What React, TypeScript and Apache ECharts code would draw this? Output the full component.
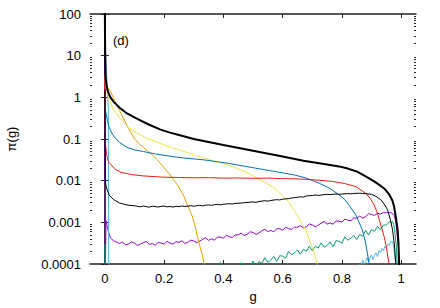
import React, { useEffect, useRef } from "react";
import * as echarts from "echarts";

// ---- data: [g, pi(g)] ----
const thickBlack: number[][] = [
  [0, 300], [0.0005, 40], [0.0015, 8], [0.0025, 3.2], [0.005, 2.2], [0.008, 1.6], [0.013, 1.25],
  [0.019, 1.0], [0.03, 0.78], [0.05, 0.56], [0.075, 0.41], [0.1, 0.33], [0.125, 0.27], [0.15, 0.22],
  [0.188, 0.168], [0.22, 0.142], [0.25, 0.125], [0.3, 0.1], [0.35, 0.085], [0.4, 0.072], [0.5, 0.052],
  [0.6, 0.038], [0.67, 0.030], [0.75, 0.0245], [0.79, 0.022], [0.82, 0.0195], [0.85, 0.0166],
  [0.88, 0.0126], [0.91, 0.0095], [0.926, 0.0079], [0.945, 0.0063], [0.96, 0.0046], [0.97, 0.0034],
  [0.976, 0.0024], [0.983, 0.0012], [0.988, 0.00066], [0.991, 0.0003], [0.993, 0.0001], [0.994, 0.00005],
];

const yellowLine: number[][] = [
  [0, 2.5], [0.002, 2.0], [0.005, 1.5], [0.01, 1.1], [0.015, 0.85], [0.03, 0.5], [0.05, 0.32],
  [0.075, 0.2], [0.1, 0.15], [0.14, 0.105], [0.2, 0.072], [0.25, 0.055], [0.3, 0.042], [0.334, 0.035],
  [0.413, 0.024], [0.46, 0.018], [0.503, 0.0129], [0.55, 0.0083], [0.577, 0.0063], [0.6, 0.0043],
  [0.62, 0.0031], [0.644, 0.0017], [0.66, 0.0011], [0.678, 0.00066], [0.69, 0.00038], [0.705, 0.0002],
  [0.717, 0.0001], [0.72, 0.00005],
];

const orangeLine: number[][] = [
  [0, 3.5], [0.004, 2.2], [0.01, 1.7], [0.019, 1.4], [0.03, 0.95], [0.04, 0.65], [0.05, 0.48],
  [0.064, 0.3], [0.08, 0.18], [0.098, 0.105], [0.115, 0.078], [0.13, 0.063], [0.15, 0.048],
  [0.166, 0.038], [0.19, 0.025], [0.22, 0.0138], [0.245, 0.0079], [0.267, 0.0042], [0.28, 0.0025],
  [0.295, 0.0014], [0.305, 0.0008], [0.312, 0.00046], [0.32, 0.00028], [0.329, 0.000166],
  [0.335, 0.0001], [0.338, 0.00005],
];

const blueLine: number[][] = [
  [0, 0.7], [0.003, 0.45], [0.007, 0.32], [0.0135, 0.2], [0.025, 0.132], [0.036, 0.105], [0.05, 0.082],
  [0.075, 0.063], [0.1, 0.055], [0.13, 0.05], [0.171, 0.0437], [0.25, 0.036], [0.334, 0.0316],
  [0.413, 0.0263], [0.526, 0.019], [0.638, 0.0138], [0.68, 0.0115], [0.723, 0.0087], [0.76, 0.0065],
  [0.79, 0.0046], [0.81, 0.0035], [0.824, 0.0026], [0.847, 0.0015], [0.869, 0.00066], [0.88, 0.00032],
  [0.892, 0.0001], [0.895, 0.00005],
];

const redLine: number[][] = [
  [0, 3], [0.002, 0.075], [0.006, 0.042], [0.012, 0.029], [0.019, 0.025], [0.036, 0.0185],
  [0.053, 0.016], [0.09, 0.014], [0.13, 0.013], [0.2, 0.0121], [0.25, 0.0119], [0.3, 0.0117],
  [0.35, 0.0118], [0.4, 0.0115], [0.45, 0.0116], [0.5, 0.0114], [0.55, 0.0115], [0.6, 0.0112],
  [0.655, 0.011], [0.72, 0.0103], [0.768, 0.0096], [0.81, 0.0085], [0.847, 0.0072], [0.88, 0.005],
  [0.895, 0.0038], [0.909, 0.0026], [0.918, 0.0018], [0.926, 0.00115], [0.935, 0.0007],
  [0.943, 0.00044], [0.95, 0.00025], [0.959, 0.0001], [0.962, 0.00005],
];

const thinBlack: number[][] = [
  [0, 1.5], [0.002, 0.01], [0.004, 0.0075], [0.008, 0.006], [0.015, 0.0045], [0.03, 0.0035],
  [0.05, 0.0029], [0.075, 0.0026], [0.1, 0.0025], [0.11, 0.00242], [0.12, 0.00236], [0.13, 0.00247],
  [0.14, 0.00238], [0.15, 0.00231], [0.16, 0.00244], [0.17, 0.00239], [0.18, 0.00233], [0.19, 0.00241],
  [0.2, 0.00246], [0.21, 0.00235], [0.22, 0.0024], [0.23, 0.00232], [0.24, 0.00243], [0.25, 0.00238],
  [0.26, 0.00247], [0.27, 0.0024], [0.28, 0.00244], [0.29, 0.00251], [0.3, 0.00243], [0.31, 0.0025],
  [0.32, 0.00256], [0.33, 0.00248], [0.34, 0.00258], [0.35, 0.00262], [0.36, 0.00255], [0.37, 0.00266],
  [0.38, 0.0027], [0.39, 0.00263], [0.4, 0.00272], [0.42, 0.0028], [0.43, 0.00274], [0.44, 0.00285],
  [0.46, 0.0029], [0.47, 0.00296], [0.48, 0.0030], [0.5, 0.00308], [0.51, 0.00302], [0.52, 0.00316],
  [0.54, 0.0033], [0.55, 0.00322], [0.56, 0.00335], [0.58, 0.0035], [0.59, 0.00344], [0.6, 0.0036],
  [0.62, 0.0037], [0.63, 0.00385], [0.64, 0.0039], [0.66, 0.0041], [0.67, 0.00402], [0.68, 0.0043],
  [0.7, 0.0044], [0.71, 0.00452], [0.72, 0.00443], [0.74, 0.0046], [0.75, 0.00472], [0.76, 0.00462],
  [0.78, 0.0048], [0.79, 0.00468], [0.8, 0.00478], [0.82, 0.0049], [0.83, 0.00482], [0.84, 0.00493],
  [0.86, 0.005], [0.87, 0.00492], [0.88, 0.00488], [0.9, 0.0047], [0.915, 0.0042], [0.931, 0.0035],
  [0.945, 0.0026], [0.954, 0.002], [0.963, 0.0012], [0.971, 0.00066], [0.977, 0.0003],
  [0.982, 0.0001], [0.985, 0.00005],
];

const purpleLine: number[][] = [
  [0, 50], [0.0015, 0.00005], [0.004, 0.0011], [0.008, 0.0008], [0.012, 0.0006], [0.019, 0.00042],
  [0.03, 0.00036], [0.042, 0.00033], [0.05, 0.00031], [0.06, 0.000335], [0.07, 0.000288], [0.08, 0.0003],
  [0.09, 0.00034], [0.1, 0.000316], [0.11, 0.000279], [0.12, 0.000298], [0.13, 0.000326], [0.14, 0.000347],
  [0.15, 0.000295], [0.16, 0.00031], [0.17, 0.000282], [0.18, 0.000329], [0.19, 0.000319], [0.2, 0.0003],
  [0.21, 0.000349], [0.22, 0.000319], [0.23, 0.000299], [0.24, 0.000343], [0.25, 0.00033], [0.26, 0.000362],
  [0.27, 0.000312], [0.28, 0.00033], [0.29, 0.000374], [0.3, 0.000357], [0.31, 0.000324], [0.32, 0.000355],
  [0.33, 0.000389], [0.34, 0.000426], [0.35, 0.00037], [0.36, 0.0004], [0.37, 0.000373], [0.38, 0.000445],
  [0.39, 0.000443], [0.4, 0.000414], [0.41, 0.00049], [0.42, 0.000451], [0.43, 0.000432], [0.44, 0.0005],
  [0.45, 0.0005], [0.46, 0.000551], [0.47, 0.000484], [0.48, 0.000514], [0.49, 0.000594], [0.5, 0.000571],
  [0.51, 0.000513], [0.52, 0.000557], [0.53, 0.00063], [0.54, 0.000683], [0.55, 0.000599], [0.56, 0.00064],
  [0.57, 0.000592], [0.58, 0.0007], [0.59, 0.0007], [0.6, 0.000649], [0.61, 0.000763], [0.62, 0.000706],
  [0.63, 0.000672], [0.64, 0.00077], [0.65, 0.00076], [0.66, 0.000832], [0.67, 0.000735], [0.68, 0.000786],
  [0.69, 0.000913], [0.7, 0.000867], [0.71, 0.000783], [0.72, 0.000854], [0.73, 0.000956], [0.74, 0.00104],
  [0.75, 0.000903], [0.76, 0.00097], [0.77, 0.000901], [0.78, 0.00107], [0.79, 0.00107], [0.8, 0.00101],
  [0.81, 0.0012], [0.82, 0.00112], [0.83, 0.00109], [0.84, 0.00127], [0.85, 0.00126], [0.86, 0.00141],
  [0.87, 0.00126], [0.88, 0.00137], [0.89, 0.00161], [0.9, 0.00154], [0.91, 0.00147], [0.92, 0.00165],
  [0.93, 0.00158], [0.94, 0.00172], [0.95, 0.0017], [0.96, 0.00172], [0.97, 0.00166], [0.976, 0.00145],
  [0.981, 0.0011], [0.984, 0.00076], [0.987, 0.00045], [0.99, 0.0003], [0.993, 0.0001], [0.995, 0.00005],
];

const greenLine: number[][] = [
  [0, 0.0003], [0.001, 0.00005], [0.38, 0.00005], [0.39, 0.00011], [0.4, 0.00005], [0.45, 0.00005],
  [0.46, 0.000108], [0.47, 0.00005], [0.49, 0.00008], [0.5, 0.000118], [0.51, 0.000088], [0.52, 0.000115],
  [0.53, 0.000104], [0.54, 0.000142], [0.55, 0.00011], [0.56, 0.000124], [0.57, 0.000152], [0.58, 0.000115],
  [0.59, 0.000158], [0.6, 0.000155], [0.61, 0.000138], [0.62, 0.0002], [0.63, 0.000166], [0.64, 0.000185],
  [0.65, 0.000218], [0.66, 0.000172], [0.67, 0.000226], [0.68, 0.000202], [0.69, 0.000268], [0.7, 0.000208],
  [0.71, 0.000265], [0.72, 0.000242], [0.73, 0.000322], [0.74, 0.000255], [0.75, 0.00028], [0.76, 0.00034],
  [0.77, 0.000262], [0.78, 0.000362], [0.79, 0.000352], [0.8, 0.000315], [0.81, 0.00045], [0.82, 0.000372],
  [0.83, 0.000413], [0.84, 0.000485], [0.85, 0.000382], [0.86, 0.000515], [0.87, 0.000465], [0.88, 0.00064],
  [0.89, 0.000495], [0.9, 0.000665], [0.91, 0.000605], [0.92, 0.0008], [0.93, 0.000665], [0.94, 0.00086],
  [0.95, 0.00086], [0.96, 0.00103], [0.965, 0.00098], [0.971, 0.00105], [0.975, 0.00088], [0.978, 0.00066],
  [0.981, 0.0004], [0.984, 0.00026], [0.986, 0.0001], [0.988, 0.00005],
];

const skyBlueLine: number[][] = [
  [0, 30], [0.012, 0.5], [0.013, 0.00005], [0.855, 0.00005], [0.858, 0.0001], [0.864, 0.000088],
  [0.87, 0.000125], [0.875, 0.000098], [0.88, 0.000115], [0.885, 0.000142], [0.89, 0.000112],
  [0.895, 0.000138], [0.9, 0.000165], [0.905, 0.000128], [0.91, 0.000158], [0.915, 0.000185],
  [0.92, 0.00015], [0.925, 0.00021], [0.93, 0.00019], [0.935, 0.000235], [0.94, 0.00021],
  [0.945, 0.000265], [0.95, 0.00024], [0.955, 0.0003], [0.96, 0.000285], [0.965, 0.00034],
  [0.971, 0.00035], [0.975, 0.00024], [0.978, 0.00015], [0.982, 0.0001], [0.984, 0.00005],
];

const xTickValues = [0, 0.2, 0.4, 0.6, 0.8, 1];
const xTickLabels = ["0", "0.2", "0.4", "0.6", "0.8", "1"];
const yTickValues = [0.0001, 0.001, 0.01, 0.1, 1, 10, 100];
const yTickLabels = ["0.0001", "0.001", "0.01", "0.1", "1", "10", "100"];
const minorMultipliers = [2, 3, 4, 5, 6, 7, 8, 9];

const FONT = "'Liberation Sans', Arial, sans-serif";

export default function App() {
  const ref = useRef<HTMLDivElement>(null);
  useEffect(() => {
    if (!ref.current) return;
    const chart = echarts.init(ref.current, null, { renderer: "svg" });
    const minorValues: number[] = [];
    yTickValues.slice(0, -1).forEach((d) => minorMultipliers.forEach((m) => minorValues.push(d * m)));
    const frameColor = "#222";
    const xLabel = (v: number) => {
      const i = xTickValues.findIndex((t) => Math.abs(t - v) < 1e-6);
      return i >= 0 ? xTickLabels[i] : "";
    };
    const yLabel = (v: number) => {
      const i = yTickValues.findIndex((t) => Math.abs(Math.log10(t) - Math.log10(v)) < 1e-6);
      return i >= 0 ? yTickLabels[i] : "";
    };
    const baseX = {
      type: "value",
      min: -0.05,
      max: 1.05,
      splitLine: { show: false },
      axisLine: { show: true, onZero: false, lineStyle: { color: frameColor, width: 1.5 } },
      axisTick: { show: true, inside: true, length: 4, customValues: xTickValues, lineStyle: { color: frameColor, width: 1 } },
    };
    const baseY = {
      type: "log",
      logBase: 10,
      min: 0.0001,
      max: 100,
      splitLine: { show: false },
    };
    const mk = (data: number[][], color: string, width = 1, z = 2) => ({
      type: "line",
      data,
      showSymbol: false,
      symbol: "none",
      clip: true,
      z,
      lineStyle: { color, width },
      itemStyle: { color },
    });
    chart.setOption({
      animation: false,
      grid: { left: 90, top: 14, width: 326, height: 250, containLabel: false, outerBoundsMode: "none" },
      xAxis: [
        {
          ...baseX,
          position: "bottom",
          name: "g",
          nameLocation: "middle",
          nameGap: 24,
          nameTextStyle: { fontFamily: FONT, fontSize: 13, color: "#000" },
          axisLabel: {
            show: true,
            customValues: xTickValues,
            formatter: xLabel,
            margin: 8,
            fontFamily: FONT,
            fontSize: 13,
            color: "#000",
          },
        },
        { ...baseX, position: "top", axisLabel: { show: false } },
      ],
      yAxis: [
        {
          ...baseY,
          position: "left",
          name: "π(g)",
          nameLocation: "middle",
          nameGap: 72,
          nameRotate: 90,
          nameTextStyle: { fontFamily: FONT, fontSize: 13, color: "#000" },
          axisLine: { show: true, lineStyle: { color: frameColor, width: 1.5 } },
          axisTick: { show: true, inside: true, length: 4, customValues: yTickValues, lineStyle: { color: frameColor } },
          axisLabel: {
            show: true,
            customValues: yTickValues,
            formatter: yLabel,
            margin: 9,
            fontFamily: FONT,
            fontSize: 13,
            color: "#000",
          },
        },
        {
          ...baseY,
          position: "right",
          axisLine: { show: true, lineStyle: { color: frameColor, width: 1.5 } },
          axisTick: { show: true, inside: true, length: 4, customValues: yTickValues, lineStyle: { color: frameColor } },
          axisLabel: { show: false },
        },
        {
          ...baseY,
          position: "left",
          axisLine: { show: false },
          axisTick: { show: true, inside: true, length: 2, customValues: minorValues, lineStyle: { color: frameColor } },
          axisLabel: { show: false },
        },
        {
          ...baseY,
          position: "right",
          axisLine: { show: false },
          axisTick: { show: true, inside: true, length: 2, customValues: minorValues, lineStyle: { color: frameColor } },
          axisLabel: { show: false },
        },
      ],
      graphic: [
        {
          type: "text",
          left: 113,
          top: 34,
          style: { text: "(d)", fontFamily: FONT, fontSize: 13, fill: "#000" },
        },
      ],
      series: [
        mk(purpleLine, "#9400d3"),
        mk(greenLine, "#009e73"),
        mk(skyBlueLine, "#56b4e9"),
        mk(orangeLine, "#e69f00"),
        mk(yellowLine, "#f0e442"),
        mk(blueLine, "#0072b2"),
        mk(redLine, "#e51e10"),
        mk(thinBlack, "#000000"),
        mk(thickBlack, "#000000", 2, 3),
      ],
    });
    return () => chart.dispose();
  }, []);
  return <div ref={ref} style={{ position: "absolute", left: 0, top: 0, width: 440, height: 308 }} />;
}
